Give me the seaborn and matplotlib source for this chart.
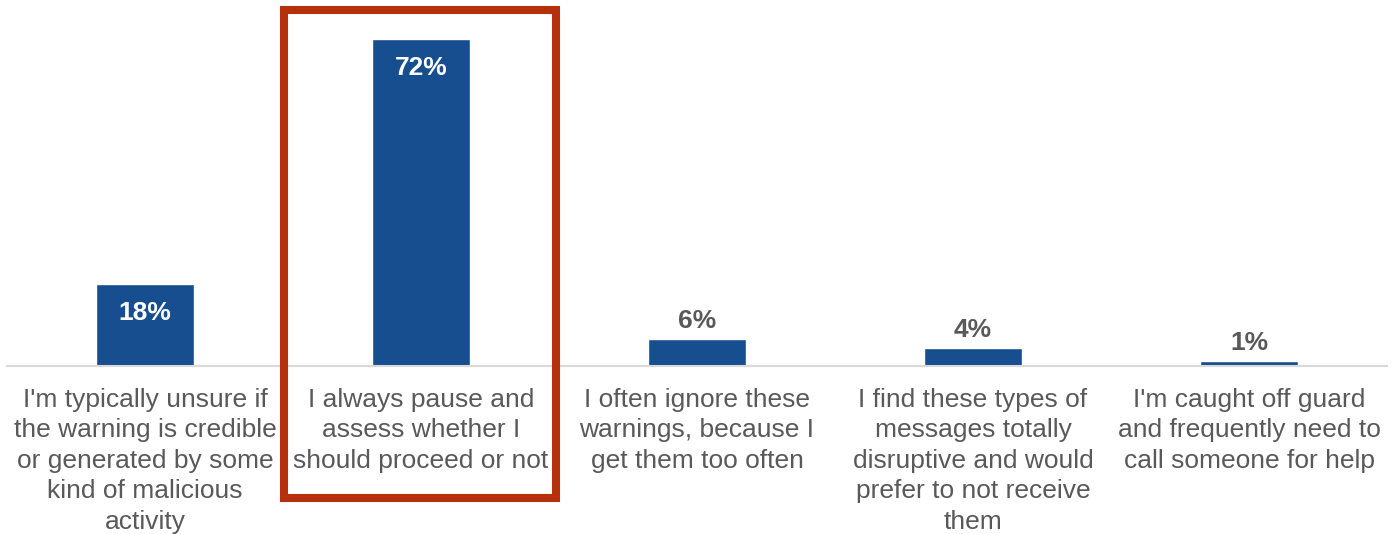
import matplotlib
matplotlib.use("Agg")
import matplotlib.pyplot as plt
from matplotlib.patches import Rectangle
import seaborn as sns
import pandas as pd

categories = [
    "I'm typically unsure if\nthe warning is credible\nor generated by some\nkind of malicious\nactivity",
    "I always pause and\nassess whether I\nshould proceed or not",
    "I often ignore these\nwarnings, because I\nget them too often",
    "I find these types of\nmessages totally\ndisruptive and would\nprefer to not receive\nthem",
    "I'm caught off guard\nand frequently need to\ncall someone for help",
]
values = [18, 72, 6, 4, 1]

BAR = "#174E8F"
GRAY = "#595959"
RED = "#B5300B"

sns.set_theme(style="white")
plt.rcParams["font.family"] = ["Liberation Sans", "DejaVu Sans"]

W, H = 1399, 534
fig = plt.figure(figsize=(W / 100, H / 100), dpi=100)
ax = fig.add_axes([7 / W, (H - 366) / H, 1380 / W, 363 / H])

df = pd.DataFrame({"cat": categories, "val": values})
sns.barplot(data=df, x="cat", y="val", color=BAR, saturation=1,
            width=0.355, ax=ax)

ax.set_ylim(0, 80)
ax.set_xlim(-0.5, len(categories) - 0.5)
ax.set_xlabel("")
ax.set_ylabel("")
ax.set_yticks([])
for s in ["top", "left", "right"]:
    ax.spines[s].set_visible(False)
ax.spines["bottom"].set_color("#D9D9D9")
ax.spines["bottom"].set_linewidth(1.5)
ax.tick_params(axis="x", length=0, pad=15.5, labelsize=19, labelcolor=GRAY)
for t in ax.get_xticklabels():
    t.set_linespacing(1.35)

# value labels: inside the tall bars, above the short ones
for i, v in enumerate(values):
    if v >= 10:
        ax.annotate(f"{v}%", (i, v), xytext=(0, -21), textcoords="offset points",
                    ha="center", va="center", color="white",
                    fontsize=19, fontweight="bold")
    else:
        ax.annotate(f"{v}%", (i, v), xytext=(0, 13), textcoords="offset points",
                    ha="center", va="center", color=GRAY,
                    fontsize=19, fontweight="bold")

# highlight box around the second category
fig.patches.append(Rectangle((284 / W, (H - 498) / H), 272 / W, 488 / H,
                             transform=fig.transFigure, fill=False,
                             edgecolor=RED, linewidth=5.8, zorder=10))

fig.savefig("out.png", dpi=100)
